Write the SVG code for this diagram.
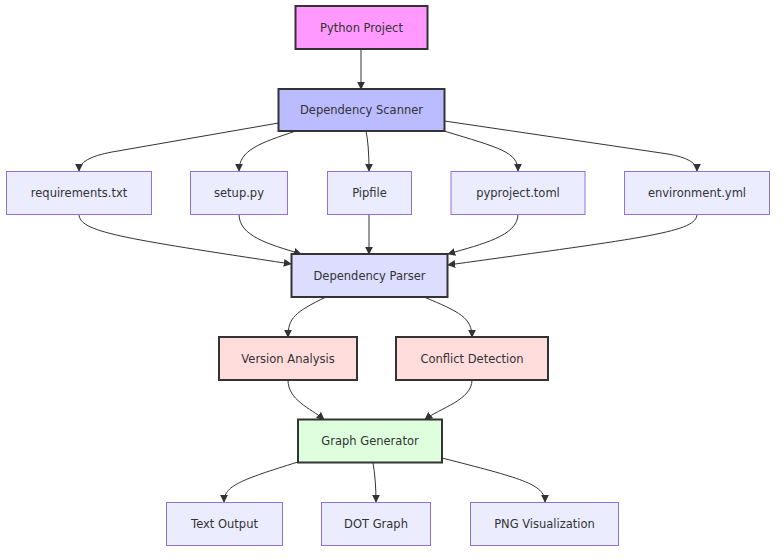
<svg xmlns="http://www.w3.org/2000/svg" width="784" height="558" viewBox="0 0 784 558">
<defs>
<marker id="arr" viewBox="0 0 10 10" refX="9" refY="5" markerWidth="8" markerHeight="8" markerUnits="userSpaceOnUse" orient="auto">
<path d="M0,0 L10,5 L0,10 z" fill="#333"/>
</marker>
<style>
.n rect{stroke-width:1px}
.def rect{fill:#ececff;stroke:#9370db}
.key rect{stroke:#333;stroke-width:2px}
text{font-family:"DejaVu Sans","Liberation Sans",sans-serif;font-size:11.5px;fill:#333;text-anchor:middle}
.e path{fill:none;stroke:#333;stroke-width:1;marker-end:url(#arr)}
</style>
</defs>
<rect width="784" height="558" fill="#fff"/>
<g class="e" id="edges">
<path d="M361,49 L361,89"/>
<path d="M278.5,123 L112,152 Q79,158 79,171"/>
<path d="M296,131 C260,143 239,150 239,171"/>
<path d="M366,131 Q369,145 369,171"/>
<path d="M444,131 C500,148 518,152 518,171"/>
<path d="M444.5,121 L668,154 Q697,159 697,171"/>
<path d="M79,214 C79,232 120,238 291,264"/>
<path d="M239,214 C239,236 268,244 301,254"/>
<path d="M369,214 L369,254"/>
<path d="M518,214 C518,236 482,244 448,254"/>
<path d="M697,214 C697,232 650,237 448,265"/>
<path d="M326,297 C295,312 288,318 288,337"/>
<path d="M424,297 C460,312 472,318 472,337"/>
<path d="M288,380 C288,400 310,408 324,419.5"/>
<path d="M472,380 C472,400 440,408 425,419.5"/>
<path d="M298,462 C240,480 224,486 224,502"/>
<path d="M373,463 Q376,480 376,502"/>
<path d="M442,458 C520,478 545,484 545,502"/>
</g>
<g id="python_project" class="n key"><rect x="295.5" y="6" width="132" height="43" fill="#ff99ff"/><text x="361.5" y="31.5">Python Project</text></g>
<g id="dependency_scanner" class="n key"><rect x="278.5" y="89" width="166" height="42" fill="#bbbbff"/><text x="361.5" y="114">Dependency Scanner</text></g>
<g id="requirements" class="n def"><rect x="6.5" y="171.5" width="145" height="43"/><text x="79" y="197">requirements.txt</text></g>
<g id="setup_py" class="n def"><rect x="190.5" y="171.5" width="97" height="43"/><text x="239" y="197">setup.py</text></g>
<g id="pipfile" class="n def"><rect x="327.5" y="171.5" width="84" height="43"/><text x="369.5" y="197">Pipfile</text></g>
<g id="pyproject" class="n def"><rect x="451" y="171.5" width="134" height="43"/><text x="518" y="197">pyproject.toml</text></g>
<g id="environment" class="n def"><rect x="624.5" y="171.5" width="145" height="43"/><text x="697" y="197">environment.yml</text></g>
<g id="dependency_parser" class="n key"><rect x="291.5" y="254" width="156" height="43" fill="#ddddff"/><text x="369.5" y="279.5">Dependency Parser</text></g>
<g id="version_analysis" class="n key"><rect x="219" y="337" width="138" height="43" fill="#ffdddd"/><text x="288" y="362.5">Version Analysis</text></g>
<g id="conflict_detection" class="n key"><rect x="396" y="337" width="152" height="43" fill="#ffdddd"/><text x="472" y="362.5">Conflict Detection</text></g>
<g id="graph_generator" class="n key"><rect x="298" y="419.5" width="144" height="43" fill="#ddffdd"/><text x="370" y="445">Graph Generator</text></g>
<g id="text_output" class="n def"><rect x="166.5" y="502.5" width="116" height="43"/><text x="224.5" y="528">Text Output</text></g>
<g id="dot_graph" class="n def"><rect x="321.5" y="502.5" width="109" height="43"/><text x="376" y="528">DOT Graph</text></g>
<g id="png_visualization" class="n def"><rect x="470.5" y="502.5" width="148" height="43"/><text x="544.5" y="528">PNG Visualization</text></g>
</svg>
